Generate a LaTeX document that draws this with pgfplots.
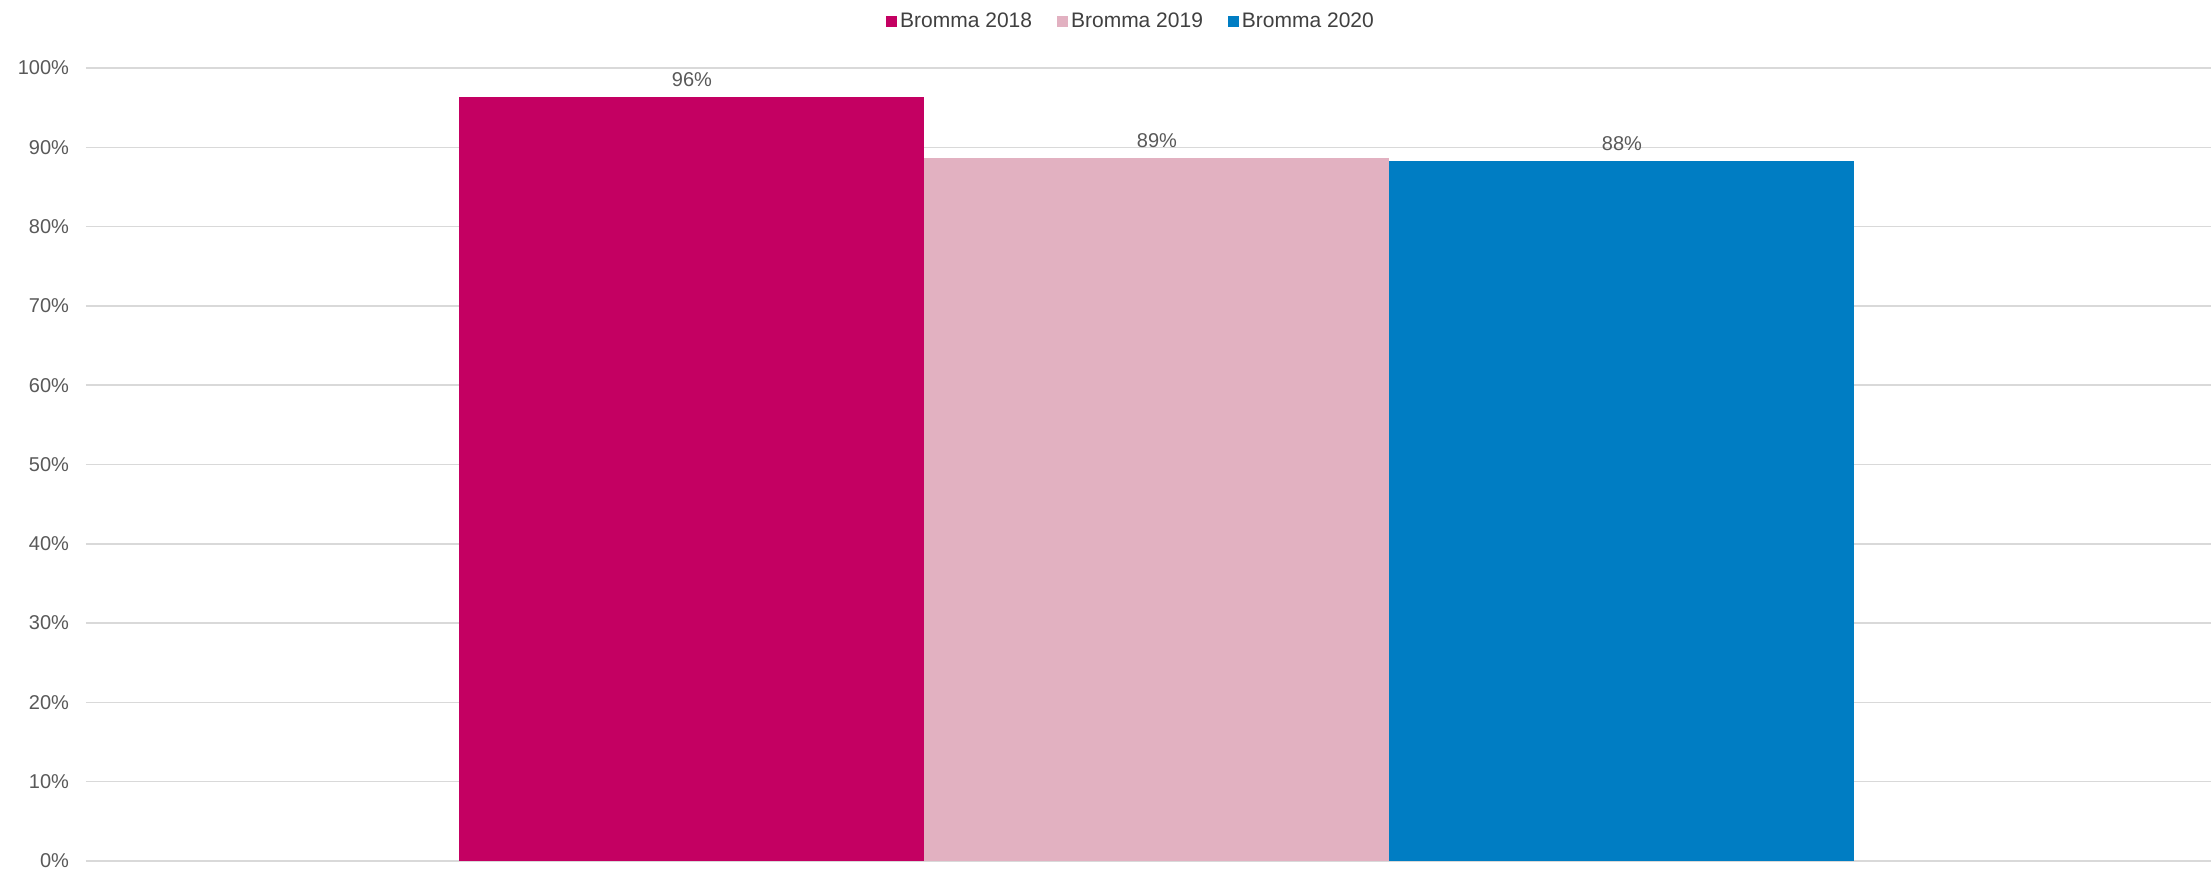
\documentclass[border=0pt]{standalone}
\usepackage{fontspec}
\setmainfont{Liberation Sans}
\usepackage{pgfplots}
\pgfplotsset{compat=1.18}
\definecolor{c2018}{RGB}{196,0,98}
\definecolor{c2019}{RGB}{226,177,193}
\definecolor{c2020}{RGB}{0,125,195}
\definecolor{txt}{RGB}{89,89,89}
\definecolor{gridc}{RGB}{217,217,217}
\begin{document}
\begin{tikzpicture}
\begin{axis}[
  scale only axis,
  width=1062.5pt, height=396.5pt,
  xmin=-2.303, xmax=2.267,
  ymin=0, ymax=100,
  ytick={0,10,...,100},
  yticklabel={\pgfmathprintnumber{\tick}\%},
  /pgf/number format/assume math mode=true,
  xtick=\empty,
  major tick length=0pt,
  ymajorgrids=true,
  grid style={gridc, line width=0.75pt},
  separate axis lines,
  axis x line*=bottom, axis y line*=left,
  x axis line style={gridc, line width=1pt, -},
  y axis line style={draw=none},
  tick label style={font=\fontsize{10}{11}\selectfont, text=txt},
  yticklabel style={xshift=-5pt},
  ybar, bar width=1, bar shift=0pt,
  nodes near coords={\pgfmathprintnumber[fixed,precision=0]{\pgfplotspointmeta}\%},
  nodes near coords style={font=\fontsize{10}{11}\selectfont, text=txt, yshift=1.5pt},
  legend columns=3,
  legend style={at={(0.492,1.059)}, anchor=center, draw=none, fill=none,
    font=\fontsize{10.5}{12}\selectfont, text=black!75,
    /tikz/every even column/.append style={column sep=11pt},
    nodes={inner sep=1.5pt}},
  legend image code/.code={\fill[#1] (0pt,-2.75pt) rectangle (5.5pt,2.75pt);},
]
\addplot[fill=c2018, draw=none] coordinates {(-1,96.4)};
\addplot[fill=c2019, draw=none] coordinates {(0,88.7)};
\addplot[fill=c2020, draw=none] coordinates {(1,88.3)};
\legend{Bromma 2018, Bromma 2019, Bromma 2020}
\end{axis}
\pgfresetboundingbox
\path (-43pt,-3.5pt) rectangle (1062.5pt,430.5pt);
\end{tikzpicture}
\end{document}
